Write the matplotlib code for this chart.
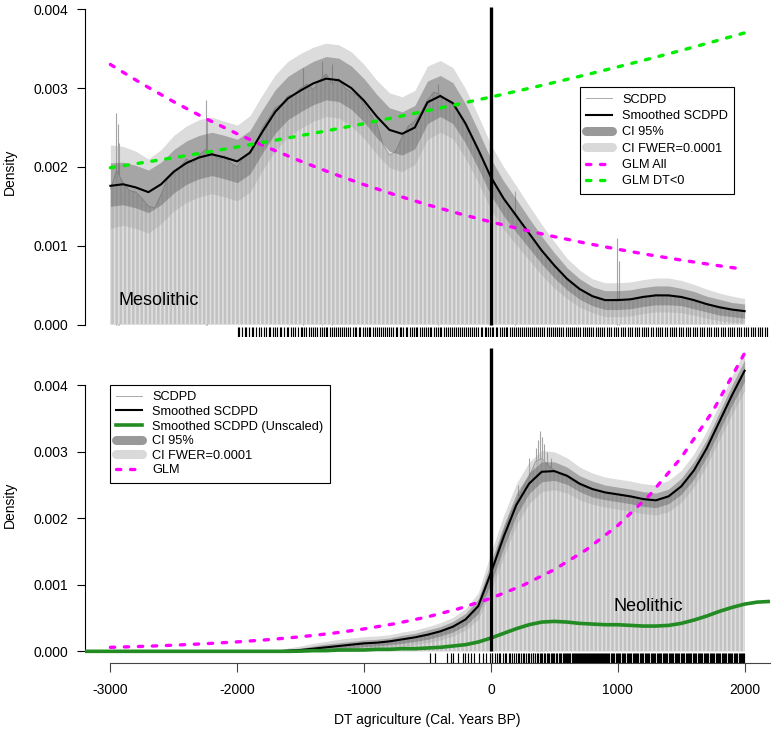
import matplotlib
matplotlib.use("Agg")
import matplotlib.pyplot as plt
from matplotlib.lines import Line2D
from matplotlib.ticker import FixedLocator, FormatStrFormatter

plt.rcParams['font.family'] = ['Liberation Sans', 'DejaVu Sans']
plt.rcParams['axes.unicode_minus'] = False
plt.rcParams['hatch.linewidth'] = 1.2

# ---------------- data: Mesolithic (top panel) ----------------
grid_x = [-3000, -2900, -2800, -2700, -2600, -2500, -2400, -2300, -2200, -2100,
          -2000, -1900, -1800, -1700, -1600, -1500, -1400, -1300, -1200, -1100,
          -1000, -900, -800, -700, -600, -500, -400, -300, -200, -100,
          0, 100, 200, 300, 400, 500, 600, 700, 800, 900,
          1000, 1100, 1200, 1300, 1400, 1500, 1600, 1700, 1800, 1900, 2000]

meso_smooth = [0.00176, 0.00178, 0.00174, 0.00168, 0.00178, 0.00194, 0.00205, 0.00212, 0.00216, 0.00212,
               0.00207, 0.00218, 0.00245, 0.00270, 0.00287, 0.00297, 0.00306, 0.00312, 0.00310, 0.00300,
               0.00284, 0.00264, 0.00247, 0.00242, 0.00250, 0.00282, 0.00290, 0.00281, 0.00255, 0.00222,
               0.00187, 0.00160, 0.00138, 0.00116, 0.00094, 0.00075, 0.00058, 0.00045, 0.00036, 0.00031,
               0.00031, 0.00032, 0.00035, 0.00037, 0.00037, 0.00035, 0.00031, 0.00026, 0.00022, 0.00019, 0.00017]
meso_ci_lo = [0.00150, 0.00152, 0.00148, 0.00142, 0.00152, 0.00167, 0.00178, 0.00185, 0.00189, 0.00185,
              0.00180, 0.00191, 0.00218, 0.00243, 0.00260, 0.00270, 0.00279, 0.00285, 0.00283, 0.00273,
              0.00257, 0.00237, 0.00220, 0.00215, 0.00223, 0.00255, 0.00264, 0.00255, 0.00230, 0.00198,
              0.00164, 0.00138, 0.00117, 0.00097, 0.00077, 0.00059, 0.00044, 0.00032, 0.00024, 0.00019,
              0.00019, 0.00020, 0.00023, 0.00025, 0.00025, 0.00024, 0.00020, 0.00016, 0.00012, 0.00010, 0.00008]
meso_ci_up = [0.00205, 0.00206, 0.00202, 0.00196, 0.00206, 0.00222, 0.00233, 0.00240, 0.00244, 0.00240,
              0.00235, 0.00246, 0.00273, 0.00298, 0.00315, 0.00325, 0.00334, 0.00340, 0.00338, 0.00328,
              0.00312, 0.00292, 0.00275, 0.00270, 0.00278, 0.00309, 0.00316, 0.00307, 0.00280, 0.00246,
              0.00210, 0.00182, 0.00159, 0.00135, 0.00112, 0.00091, 0.00072, 0.00058, 0.00048, 0.00043,
              0.00043, 0.00044, 0.00047, 0.00049, 0.00049, 0.00046, 0.00042, 0.00036, 0.00032, 0.00028, 0.00026]
meso_fw_lo = [0.00122, 0.00126, 0.00122, 0.00116, 0.00128, 0.00144, 0.00155, 0.00162, 0.00166, 0.00162,
              0.00157, 0.00168, 0.00196, 0.00221, 0.00238, 0.00249, 0.00258, 0.00264, 0.00262, 0.00252,
              0.00236, 0.00216, 0.00199, 0.00194, 0.00203, 0.00235, 0.00244, 0.00236, 0.00211, 0.00180,
              0.00146, 0.00121, 0.00101, 0.00082, 0.00063, 0.00046, 0.00033, 0.00022, 0.00015, 0.00010,
              0.00010, 0.00011, 0.00014, 0.00016, 0.00016, 0.00015, 0.00012, 0.00008, 0.00005, 0.00003, 0.00002]
meso_fw_up = [0.00228, 0.00226, 0.00220, 0.00210, 0.00222, 0.00240, 0.00252, 0.00260, 0.00263, 0.00258,
              0.00253, 0.00265, 0.00292, 0.00317, 0.00334, 0.00344, 0.00352, 0.00357, 0.00355, 0.00346,
              0.00330, 0.00310, 0.00294, 0.00289, 0.00297, 0.00328, 0.00335, 0.00326, 0.00299, 0.00265,
              0.00228, 0.00200, 0.00176, 0.00151, 0.00127, 0.00105, 0.00084, 0.00069, 0.00058, 0.00053,
              0.00053, 0.00054, 0.00057, 0.00059, 0.00059, 0.00056, 0.00051, 0.00045, 0.00040, 0.00036, 0.00033]

raw_x = [-3000, -2950, -2900, -2850, -2800, -2750, -2700, -2650, -2600, -2550,
         -2500, -2450, -2400, -2350, -2300, -2250, -2200, -2150, -2100, -2050,
         -2000, -1950, -1900, -1850, -1800, -1750, -1700, -1650, -1600, -1550,
         -1500, -1450, -1400, -1350, -1300, -1250, -1200, -1150, -1100, -1050,
         -1000, -950, -900, -850, -800, -750, -700, -650, -600, -550,
         -500, -450, -400, -350, -300, -250, -200, -150, -100, -50,
         0, 50, 100, 150, 200, 250, 300, 350, 400, 450,
         500, 550, 600, 650, 700, 750, 800, 850, 900, 950,
         1000, 1050, 1100, 1150, 1200, 1250, 1300, 1350, 1400, 1450,
         1500, 1550, 1600, 1650, 1700, 1750, 1800, 1850, 1900, 1950, 2000]
meso_raw = [0.00172, 0.00195, 0.00180, 0.00170, 0.00168, 0.00160, 0.00150, 0.00148, 0.00165, 0.00185,
            0.00192, 0.00200, 0.00210, 0.00205, 0.00215, 0.00222, 0.00218, 0.00210, 0.00214, 0.00205,
            0.00200, 0.00212, 0.00220, 0.00232, 0.00250, 0.00262, 0.00275, 0.00280, 0.00290, 0.00292,
            0.00300, 0.00305, 0.00298, 0.00310, 0.00318, 0.00305, 0.00312, 0.00300, 0.00295, 0.00290,
            0.00280, 0.00268, 0.00255, 0.00228, 0.00215, 0.00220, 0.00238, 0.00252, 0.00258, 0.00270,
            0.00285, 0.00295, 0.00292, 0.00285, 0.00278, 0.00268, 0.00252, 0.00238, 0.00220, 0.00205,
            0.00185, 0.00172, 0.00158, 0.00148, 0.00140, 0.00125, 0.00115, 0.00104, 0.00095, 0.00085,
            0.00075, 0.00066, 0.00058, 0.00050, 0.00044, 0.00040, 0.00035, 0.00032, 0.00030, 0.00031,
            0.00033, 0.00031, 0.00032, 0.00034, 0.00036, 0.00036, 0.00038, 0.00037, 0.00036, 0.00035,
            0.00034, 0.00032, 0.00030, 0.00028, 0.00025, 0.00023, 0.00021, 0.00020, 0.00019, 0.00018, 0.00017]
meso_spike_x = [-2955, -2942, -2930, -2250, -2238, -1480, -1330, -1250, -420, 190, 995, 1010]
meso_spike_y = [0.00268, 0.00255, 0.00230, 0.00285, 0.00262, 0.00325, 0.00335, 0.00330, 0.00305, 0.00170, 0.00110, 0.00080]

glm_x = [-3000, -2750, -2500, -2250, -2000, -1750, -1500, -1250, -1000, -750,
         -500, -250, 0, 250, 500, 750, 1000, 1250, 1500, 1750, 2000]
glm_all = [0.003300, 0.003054, 0.002826, 0.002615, 0.002420, 0.002240, 0.002073, 0.001918, 0.001775, 0.001643,
           0.001520, 0.001407, 0.001302, 0.001205, 0.001115, 0.001032, 0.000955, 0.000884, 0.000818, 0.000757, 0.000700]
glm_dt = [0.001990, 0.002053, 0.002117, 0.002184, 0.002253, 0.002324, 0.002397, 0.002472, 0.002550, 0.002631,
          0.002714, 0.002799, 0.002887, 0.002978, 0.003072, 0.003169, 0.003269, 0.003372, 0.003478, 0.003588, 0.003701]

meso_rug = [-1995, -1985, -1962, -1940, -1931, -1905, -1880, -1872, -1850, -1826, -1810, -1788, -1770, -1752,
            -1745, -1720, -1700, -1684, -1660, -1652, -1630, -1610, -1598, -1575, -1560, -1541, -1522, -1500,
            -1489, -1470, -1455, -1432, -1420, -1400, -1384, -1370, -1350, -1335, -1318, -1300, -1290, -1270,
            -1255, -1240, -1221, -1205, -1190, -1172, -1160, -1142, -1125, -1110, -1090, -1075, -1060, -1042,
            -1030, -1010, -995, -980, -962, -950, -930, -915, -898, -880, -870, -850, -832, -820, -800, -788,
            -770, -752, -740, -720, -705, -690, -672, -660, -640, -625, -610, -592, -580, -560, -545, -530,
            -512, -500, -482, -470, -450, -435, -420, -402, -390, -370, -355, -340, -322, -310, -290, -275,
            -260, -242, -230, -210, -195, -180, -162, -150, -130, -115, -100, -82, -70, -50, -35, -20, -5,
            8, 20, 38, 50, 70, 85, 100, 118, 130, 150, 165, 180, 198, 210, 230, 245, 260, 278, 290, 310, 325,
            340, 358, 370, 390, 405, 420, 440, 455, 470, 490, 505, 522, 540, 555, 570, 590, 605, 622, 640, 655,
            672, 690, 705, 722, 740, 755, 772, 790, 808, 825, 842, 860, 878, 895, 912, 930, 950, 968, 985,
            1005, 1022, 1040, 1060, 1078, 1095, 1115, 1132, 1150, 1170, 1188, 1205, 1225, 1242, 1260, 1280,
            1298, 1315, 1335, 1352, 1370, 1390, 1408, 1425, 1445, 1462, 1480, 1500, 1518, 1535, 1555, 1572,
            1590, 1610, 1628, 1645, 1665, 1682, 1700, 1720, 1738, 1755, 1775, 1792, 1810, 1830, 1848, 1865,
            1885, 1902, 1920, 1940, 1958, 1975, 1995, 2012, 2030, 2050, 2068, 2085, 2105, 2122, 2140, 2160, 2178]

# ---------------- data: Neolithic (bottom panel) ----------------
neo_smooth = [0, 0, 0, 0, 0, 0, 0, 0, 0, 0,
              0, 0, 0, 0, 0.00001, 0.00002, 0.00004, 0.00006, 0.00008, 0.00010,
              0.00012, 0.00013, 0.00015, 0.00018, 0.00021, 0.00025, 0.00030, 0.00037, 0.00048, 0.00068,
              0.00118, 0.00172, 0.00220, 0.00252, 0.00270, 0.00271, 0.00264, 0.00252, 0.00244, 0.00239,
              0.00236, 0.00233, 0.00229, 0.00227, 0.00233, 0.00248, 0.00272, 0.00305, 0.00345, 0.00385, 0.00422]
neo_ci_lo = [0, 0, 0, 0, 0, 0, 0, 0, 0, 0,
             0, 0, 0, 0, 0, 0, 0.00001, 0.00002, 0.00003, 0.00005,
             0.00007, 0.00008, 0.00010, 0.00012, 0.00015, 0.00018, 0.00023, 0.00029, 0.00039, 0.00057,
             0.00102, 0.00155, 0.00204, 0.00237, 0.00255, 0.00257, 0.00251, 0.00240, 0.00232, 0.00228,
             0.00225, 0.00222, 0.00218, 0.00216, 0.00222, 0.00236, 0.00259, 0.00292, 0.00331, 0.00370, 0.00406]
neo_ci_up = [0, 0, 0, 0, 0, 0, 0, 0, 0, 0,
             0, 0, 0, 0, 0.00003, 0.00005, 0.00008, 0.00011, 0.00013, 0.00015,
             0.00017, 0.00018, 0.00020, 0.00024, 0.00027, 0.00032, 0.00037, 0.00045, 0.00057, 0.00079,
             0.00134, 0.00189, 0.00237, 0.00268, 0.00285, 0.00285, 0.00277, 0.00264, 0.00256, 0.00250,
             0.00247, 0.00244, 0.00240, 0.00238, 0.00244, 0.00260, 0.00285, 0.00318, 0.00359, 0.00400, 0.00438]
neo_fw_lo = [0, 0, 0, 0, 0, 0, 0, 0, 0, 0,
             0, 0, 0, 0, 0, 0, 0, 0, 0, 0.00001,
             0.00002, 0.00003, 0.00005, 0.00007, 0.00010, 0.00013, 0.00017, 0.00023, 0.00032, 0.00048,
             0.00090, 0.00142, 0.00190, 0.00222, 0.00240, 0.00243, 0.00238, 0.00228, 0.00221, 0.00217,
             0.00214, 0.00211, 0.00207, 0.00205, 0.00210, 0.00224, 0.00247, 0.00279, 0.00318, 0.00356, 0.00392]
neo_fw_up = [0, 0, 0, 0, 0, 0, 0, 0, 0, 0,
             0, 0, 0, 0, 0.00005, 0.00008, 0.00012, 0.00015, 0.00018, 0.00020,
             0.00022, 0.00023, 0.00025, 0.00029, 0.00032, 0.00037, 0.00043, 0.00051, 0.00064, 0.00088,
             0.00148, 0.00204, 0.00252, 0.00284, 0.00302, 0.00300, 0.00291, 0.00277, 0.00268, 0.00262,
             0.00259, 0.00256, 0.00252, 0.00250, 0.00257, 0.00272, 0.00297, 0.00331, 0.00372, 0.00414, 0.00452]

neo_raw = [0, 0, 0, 0, 0, 0, 0, 0, 0, 0,
           0, 0, 0, 0, 0, 0, 0, 0, 0, 0,
           0, 0, 0, 0, 0, 0, 0, 0, 0, 0,
           0.00002, 0.00003, 0.00004, 0.00005, 0.00006, 0.00007, 0.00008, 0.00009, 0.00010, 0.00011,
           0.00012, 0.00012, 0.00013, 0.00014, 0.00015, 0.00016, 0.00018, 0.00019, 0.00021, 0.00023,
           0.00025, 0.00027, 0.00030, 0.00034, 0.00037, 0.00042, 0.00048, 0.00056, 0.00068, 0.00088,
           0.00115, 0.00150, 0.00180, 0.00205, 0.00225, 0.00245, 0.00262, 0.00285, 0.00290, 0.00280,
           0.00272, 0.00265, 0.00262, 0.00255, 0.00250, 0.00246, 0.00243, 0.00241, 0.00238, 0.00237,
           0.00236, 0.00234, 0.00232, 0.00230, 0.00228, 0.00227, 0.00228, 0.00230, 0.00234, 0.00240,
           0.00248, 0.00258, 0.00272, 0.00288, 0.00305, 0.00325, 0.00345, 0.00365, 0.00385, 0.00405, 0.00422]
neo_spike_x = [210, 300, 355, 372, 390, 405, 418, 440, 470]
neo_spike_y = [0.00250, 0.00290, 0.00305, 0.00318, 0.00332, 0.00322, 0.00312, 0.00300, 0.00290]

unscaled_x = [-3200, -3000, -2500, -2000, -1600, -1500, -1400, -1300, -1200, -1100,
              -1000, -900, -800, -700, -600, -500, -400, -300, -200, -100,
              0, 100, 200, 300, 400, 500, 600, 700, 800, 900,
              1000, 1100, 1200, 1300, 1400, 1500, 1600, 1700, 1800, 1900,
              2000, 2100, 2200]
neo_unscaled = [0, 0, 0, 0, 0, 0.000003, 0.00001, 0.00001, 0.00002, 0.00002,
                0.00002, 0.00003, 0.00003, 0.00004, 0.00004, 0.00005, 0.00006, 0.00008, 0.00010, 0.00014,
                0.00020, 0.00027, 0.00034, 0.00040, 0.00044, 0.00045, 0.00044, 0.00042, 0.00041, 0.00040,
                0.00040, 0.00039, 0.00038, 0.00038, 0.00039, 0.00042, 0.00047, 0.00053, 0.00060, 0.00066,
                0.00071, 0.00074, 0.00075]

neo_glm_x = [-3000, -2750, -2500, -2250, -2000, -1750, -1500, -1250, -1000, -750,
             -500, -250, 0, 250, 500, 750, 1000, 1250, 1500, 1750, 2000, 2250]
neo_glm = [0.000060, 0.000074, 0.000092, 0.000115, 0.000142, 0.000176, 0.000219, 0.000271, 0.000337, 0.000418,
           0.000518, 0.000643, 0.000798, 0.000990, 0.001229, 0.001525, 0.001892, 0.002347, 0.002913, 0.003614,
           0.004484, 0.005563]

neo_rug = [-478, -440, -350, -312, -300, -258, -222, -205, -180, -160, -133, -96, -60, -35, -6,
           5, 12, 30, 48, 60, 75, 95, 110, 122, 140, 152, 170, 185, 198, 212, 225, 240, 255, 262, 278,
           290, 302, 315, 328, 335, 350, 362, 370, 385, 395, 405, 418, 428, 440, 450, 458, 470, 480, 490,
           500, 510, 522, 533, 545, 556, 566, 575, 584, 592, 601, 610, 618, 627, 636, 644, 652, 661, 670,
           678, 687, 695, 702, 710, 719, 727, 735, 742, 750, 758, 767, 775, 782, 790, 798, 806, 814, 822,
           830, 838, 846, 854, 862, 870, 878, 886, 894, 902, 910, 918, 926, 934,
           945, 953, 964, 972, 983, 991, 1002, 1011, 1020, 1031, 1040, 1049, 1058, 1069, 1078, 1088, 1097,
           1106, 1117, 1125, 1135, 1144, 1154, 1163, 1173, 1182, 1192, 1201, 1211, 1220, 1230, 1239, 1249,
           1258, 1268, 1277, 1287, 1296, 1306, 1315, 1325, 1334, 1344, 1353, 1363, 1372, 1382, 1391, 1401,
           1410, 1420, 1429, 1439, 1448, 1458, 1467, 1477, 1486, 1496, 1505, 1515, 1524, 1534, 1543, 1553,
           1562, 1572, 1581, 1591, 1600, 1610, 1619, 1629, 1638, 1648, 1657, 1667, 1676, 1686, 1695, 1705,
           1714, 1724, 1733, 1743, 1752, 1762, 1771, 1781, 1790, 1800, 1809, 1819, 1828, 1838, 1847, 1857,
           1866, 1876, 1885, 1895, 1904, 1914, 1923, 1933, 1942, 1952, 1961, 1971, 1980, 1990, 1998]

y_ticks = [0.000, 0.001, 0.002, 0.003, 0.004]
x_ticks = [-3000, -2000, -1000, 0, 1000, 2000]

# ---------------- styles ----------------
C_MAG = '#ff00ff'
C_GRN = '#00ee00'
C_FOREST = '#228b22'
W, H = 774, 734

fig = plt.figure(figsize=(W / 100, H / 100), dpi=100)
ax1 = fig.add_axes([85 / W, 1 - 337.3 / H, 685 / W, 330.6 / H])
ax2 = fig.add_axes([85 / W, 1 - 662.7 / H, 685 / W, 314.7 / H])

ax1.set_xlim(-3200, 2200)
ax2.set_xlim(-3200, 2200)
ax1.set_ylim(-0.000162, 0.004033)
ax2.set_ylim(-0.000171, 0.004561)

dash_kw = dict(lw=2.4, dashes=(1.3, 2.9), dash_capstyle='round')


def draw_panel(ax, smooth, ci_lo, ci_up, fw_lo, fw_up, raw, spx, spy, rug):
    # single-year spikes first, hidden inside the opaque bars below their tops
    ax.vlines(spx, 0, spy, color='#a4a4a4', lw=0.8, zorder=0.9)
    # SCDPD bars (striped), then translucent CI envelopes over them
    ax.fill_between(raw_x, 0, raw, facecolor='#c2c2c2', edgecolor='#e0e0e0',
                    hatch='||||', lw=0, zorder=1)
    ax.plot(raw_x, raw, color='#9a9a9a', lw=0.6, zorder=1.6)
    ax.fill_between(grid_x, fw_lo, fw_up, color='#a0a0a0', alpha=0.37, lw=0, zorder=2)
    ax.fill_between(grid_x, ci_lo, ci_up, color='#5a5a5a', alpha=0.42, lw=0, zorder=3)
    ax.plot(grid_x, smooth, color='black', lw=1.5, zorder=6)
    ax.vlines(rug, 0, 0.03, transform=ax.get_xaxis_transform(), color='black', lw=0.85, zorder=5)


draw_panel(ax1, meso_smooth, meso_ci_lo, meso_ci_up, meso_fw_lo, meso_fw_up,
           meso_raw, meso_spike_x, meso_spike_y, meso_rug)
ax1.plot(glm_x, glm_all, color=C_MAG, zorder=7, **dash_kw)
ax1.plot(glm_x, glm_dt, color=C_GRN, zorder=7, **dash_kw)
ax1.vlines(0, 0, 0.004033, color='black', lw=2.4, zorder=8)
ax1.text(-2935, 0.00031, 'Mesolithic', fontsize=13, ha='left', va='center', zorder=9)

draw_panel(ax2, neo_smooth, neo_ci_lo, neo_ci_up, neo_fw_lo, neo_fw_up,
           neo_raw, neo_spike_x, neo_spike_y, neo_rug)
ax2.plot(unscaled_x, neo_unscaled, color=C_FOREST, lw=2.6, zorder=7, solid_capstyle='butt')
ax2.plot(neo_glm_x, neo_glm, color=C_MAG, zorder=7, **dash_kw)
ax2.vlines(0, 0, 0.004561, color='black', lw=2.4, zorder=8)
ax2.text(970, 0.00067, 'Neolithic', fontsize=13, ha='left', va='center', zorder=9)

for ax in (ax1, ax2):
    for s in ('top', 'right'):
        ax.spines[s].set_visible(False)
    ax.spines['left'].set_bounds(0, 0.004)
    ax.spines['left'].set_linewidth(0.8)
    ax.yaxis.set_major_locator(FixedLocator(y_ticks))
    ax.yaxis.set_major_formatter(FormatStrFormatter('%.3f'))
    ax.tick_params(axis='y', length=6, width=0.8, pad=6, labelsize=10)
    ax.patch.set_visible(False)

ax1.spines['bottom'].set_visible(False)
ax1.set_xticks([])
ax2.spines['bottom'].set_bounds(-3000, 2200)
ax2.spines['bottom'].set_linewidth(0.8)
ax2.spines['bottom'].set_color('#444444')
ax2.set_xticks(x_ticks)
ax2.set_xticklabels([str(v) for v in x_ticks])
ax2.tick_params(axis='x', length=6.5, width=0.8, pad=8, labelsize=10, color='#444444')

fig.text(10 / W, 1 - 172 / H, 'Density', rotation=90, ha='center', va='center', fontsize=10)
fig.text(10 / W, 1 - 505 / H, 'Density', rotation=90, ha='center', va='center', fontsize=10)
fig.text(427.5 / W, 1 - 720 / H, 'DT agriculture (Cal. Years BP)', ha='center', va='center', fontsize=10)

# legends
h_scdpd = Line2D([], [], color='#aaaaaa', lw=0.7)
h_smooth = Line2D([], [], color='black', lw=1.5)
h_ci95 = Line2D([], [], color='#999999', lw=6.5, solid_capstyle='round')
h_fwer = Line2D([], [], color='#d9d9d9', lw=6.5, solid_capstyle='round')
h_mag = Line2D([], [], color=C_MAG, **dash_kw)
h_grn = Line2D([], [], color=C_GRN, **dash_kw)
h_unsc = Line2D([], [], color=C_FOREST, lw=2.6)

leg_kw = dict(loc='upper left', fontsize=9.2, frameon=True, fancybox=False, framealpha=1,
              edgecolor='black', handlelength=2.0, handletextpad=0.8, borderaxespad=0)
l1 = ax1.legend([h_scdpd, h_smooth, h_ci95, h_fwer, h_mag, h_grn],
                ['SCDPD', 'Smoothed SCDPD', 'CI 95%', 'CI FWER=0.0001', 'GLM All', 'GLM DT<0'],
                bbox_to_anchor=(0.7226, 0.7562), labelspacing=0.34, borderpad=0.5, **leg_kw)
l1.get_frame().set_linewidth(0.8)
l1.set_zorder(20)
l2 = ax2.legend([h_scdpd, h_smooth, h_unsc, h_ci95, h_fwer, h_mag],
                ['SCDPD', 'Smoothed SCDPD', 'Smoothed SCDPD (Unscaled)', 'CI 95%', 'CI FWER=0.0001', 'GLM'],
                bbox_to_anchor=(0.0365, 0.8824), labelspacing=0.2, borderpad=0.5, **leg_kw)
l2.get_frame().set_linewidth(0.8)
l2.set_zorder(20)

fig.savefig('out.png', dpi=100)
